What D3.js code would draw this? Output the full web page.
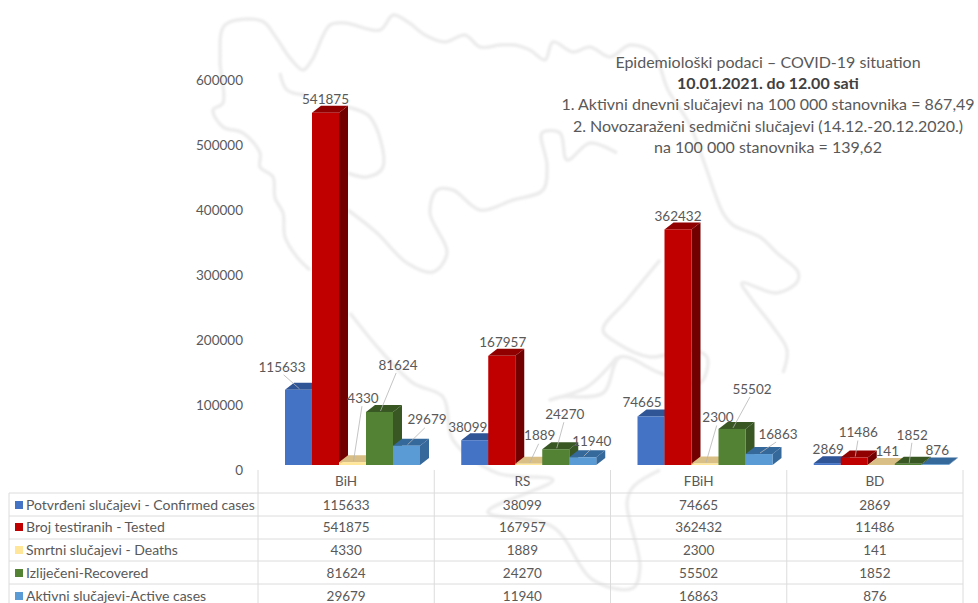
<!DOCTYPE html>
<html>
<head>
<meta charset="utf-8">
<script src="https://cdn.jsdelivr.net/npm/d3@7"></script>
<style>
  html, body { margin: 0; background: #fff; overflow: hidden; }
  text { font-family: Lato, "Open Sans", sans-serif; fill: #595959; }
</style>
</head>
<body>
<div id="chart"></div>
<script>
const categories = ["BiH", "RS", "FBiH", "BD"];
const seriesNames = [
  "Potvrđeni slučajevi - Confirmed cases",
  "Broj testiranih - Tested",
  "Smrtni slučajevi - Deaths",
  "Izliječeni-Recovered",
  "Aktivni slučajevi-Active cases"
];
const confirmed = [115633, 38099, 74665, 2869];
const tested = [541875, 167957, 362432, 11486];
const deaths = [4330, 1889, 2300, 141];
const recovered = [81624, 24270, 55502, 1852];
const active = [29679, 11940, 16863, 876];
const seriesValues = [confirmed, tested, deaths, recovered, active];
const yTicks = [0, 100000, 200000, 300000, 400000, 500000, 600000];

const titleLines = [
  "Epidemiološki podaci – COVID-19 situation",
  "10.01.2021. do 12.00 sati",
  "1. Aktivni dnevni slučajevi na 100 000 stanovnika = 867,49",
  "2. Novozaraženi sedmični slučajevi (14.12.-20.12.2020.)",
  "na 100 000 stanovnika = 139,62"
];

// front, top, side colours per series
const barColors = [
  ["#4472c4", "#2f5597", "#2f5597"],
  ["#c00000", "#900000", "#730000"],
  ["#ffe699", "#d9bf85", "#d9bf85"],
  ["#548235", "#385723", "#385723"],
  ["#5b9bd5", "#35689b", "#35689b"]
];
const swatchColors = barColors.map(c => c[0]);

// label shift from the top of its bar, [series][category]
const labelShift = [
  [[-16.5, -23], [-7, -13], [-9, -14], [1, -14]],
  [[0, -14], [1, -14], [0, -13], [4, -25]],
  [[10.5, -64], [11, -28], [13, -46], [6, -14]],
  [[18.5, -47], [9, -35], [20, -40], [4, -29]],
  [[20.5, -26], [9, -16], [19, -20], [2, -14]]
];

// faint map outline behind the chart, traced by hand
const mapOutlines = [
  [[310,270],[297,257],[285,237],[283,213],[275,198],[273,177],[260,167],[260,153],[243,133],[223,127],[213,110],[223,103],[220,60],[225,25],[262,21],[275,36],[290,58],[303,70],[312,60],[330,25],[345,23],[380,30],[393,15],[408,22],[425,35],[445,42],[465,35],[480,47],[500,45],[515,45],[530,50],[545,60],[553,42],[573,52],[590,47],[610,57],[630,45],[653,53],[668,90],[690,125],[705,165],[723,213],[733,225],[760,237],[777,253],[798,272],[797,282],[777,293],[742,283],[750,297],[773,327],[787,350],[783,373]],
  [[280,73],[287,90],[305,95]],
  [[347,107],[370,117],[383,167],[367,177],[348,173]],
  [[348,210],[377,233],[407,263],[433,272],[447,253],[430,213],[437,190],[453,190],[480,210],[513,200],[543,190],[547,165],[542,133],[560,133],[567,160],[590,143],[617,153]],
  [[350,313],[380,350],[413,383],[443,397],[453,440],[497,473],[553,480],[488,512],[553,527],[593,580],[633,588],[640,567],[627,503],[633,487],[660,470]],
  [[660,260],[627,300],[603,330],[617,343],[650,357],[690,350],[707,357],[700,383],[660,373],[620,357],[603,393],[560,397],[550,400],[587,387],[617,357]]
];

const width = 978, height = 603;
const depthX = 9, depthY = 7;
const fmt = d => String(d);

const svg = d3.select("#chart").append("svg")
  .attr("width", width)
  .attr("height", height)
  .style("display", "block");

svg.append("defs").append("filter")
  .attr("id", "soft")
  .append("feGaussianBlur")
  .attr("stdDeviation", 0.9);

// Background map
const outline = d3.line().curve(d3.curveCatmullRom);
svg.append("g")
  .attr("filter", "url(#soft)")
  .selectAll("path")
  .data(mapOutlines)
  .join("path")
  .attr("d", outline)
  .attr("fill", "none")
  .attr("stroke", "#ececec")
  .attr("stroke-width", 3.5);

// Scales
const xCat = d3.scaleBand().domain(categories).range([258, 963]);
const xSeries = d3.scaleBand().domain(d3.range(5)).range([27, 162]);
const y = d3.scaleLinear().domain([0, 600000]).range([465, 75]);

// Y axis, labels sit a little under the front of the bars
const yAxis = svg.append("g")
  .attr("transform", "translate(248,5)")
  .call(d3.axisLeft(y).tickValues(yTicks).tickFormat(fmt).tickSize(0).tickPadding(5));
yAxis.select(".domain").remove();
yAxis.selectAll("text")
  .style("font-family", "Lato, 'Open Sans', sans-serif")
  .style("font-size", "13.5px")
  .attr("fill", "#595959");

// Bars
const w = xSeries.bandwidth();
const base = y(0);
const poly = pts => pts.map(p => p.join(",")).join(" ");

categories.forEach((cat, c) => {
  seriesValues.forEach((vals, s) => {
    const x0 = xCat(cat) + xSeries(s);
    const top = y(vals[c]);
    const g = svg.append("g").attr("class", "bar");
    g.append("polygon")
      .attr("points", poly([[x0 + w, top], [x0 + w + depthX, top - depthY], [x0 + w + depthX, base - depthY], [x0 + w, base]]))
      .attr("fill", barColors[s][2]);
    g.append("polygon")
      .attr("points", poly([[x0, top], [x0 + depthX, top - depthY], [x0 + w + depthX, top - depthY], [x0 + w, top]]))
      .attr("fill", barColors[s][1]);
    g.append("rect")
      .attr("x", x0)
      .attr("y", top)
      .attr("width", w)
      .attr("height", base - top)
      .attr("fill", barColors[s][0]);
  });
});

// Data labels with leader lines
categories.forEach((cat, c) => {
  seriesValues.forEach((vals, s) => {
    const cx = xCat(cat) + xSeries(s) + w / 2;
    const top = y(vals[c]);
    const [dx, dy] = labelShift[s][c];
    if (Math.hypot(dx, dy) > 18) {
      svg.append("line")
        .attr("x1", cx + dx * 0.9)
        .attr("y1", top + dy + 8)
        .attr("x2", cx + 1)
        .attr("y2", top - 1)
        .attr("stroke", "#b5b5b5")
        .attr("stroke-width", 0.8);
    }
    svg.append("text")
      .attr("x", cx + dx)
      .attr("y", top + dy)
      .attr("dy", "0.35em")
      .attr("text-anchor", "middle")
      .style("font-size", "13.5px")
      .text(fmt(vals[c]));
  });
});

// Data table
const rowLines = [493, 516, 539, 561, 584];
const rowMid = [505, 527, 550, 573, 596];
const gridColor = "#dcdcdc";

rowLines.forEach(ry => {
  svg.append("line")
    .attr("x1", 9).attr("x2", 963)
    .attr("y1", ry).attr("y2", ry)
    .attr("stroke", gridColor);
});
svg.append("line")
  .attr("x1", 9).attr("x2", 9)
  .attr("y1", 493).attr("y2", height)
  .attr("stroke", gridColor);
[...categories.map(c => xCat(c)), 963].forEach(vx => {
  svg.append("line")
    .attr("x1", vx).attr("x2", vx)
    .attr("y1", 470).attr("y2", height)
    .attr("stroke", gridColor);
});

categories.forEach(cat => {
  svg.append("text")
    .attr("x", xCat(cat) + xCat.bandwidth() / 2)
    .attr("y", 481)
    .attr("dy", "0.35em")
    .attr("text-anchor", "middle")
    .style("font-size", "13.5px")
    .text(cat);
});

seriesNames.forEach((name, s) => {
  svg.append("rect")
    .attr("x", 15)
    .attr("y", rowMid[s] - 4)
    .attr("width", 8)
    .attr("height", 8)
    .attr("fill", swatchColors[s]);
  svg.append("text")
    .attr("x", 26)
    .attr("y", rowMid[s])
    .attr("dy", "0.35em")
    .style("font-size", "14px")
    .text(name);
  categories.forEach((cat, c) => {
    svg.append("text")
      .attr("x", xCat(cat) + xCat.bandwidth() / 2)
      .attr("y", rowMid[s])
      .attr("dy", "0.35em")
      .attr("text-anchor", "middle")
      .style("font-size", "13.5px")
      .text(fmt(seriesValues[s][c]));
  });
});

// Title block
svg.append("g").selectAll("text")
  .data(titleLines)
  .join("text")
  .attr("x", 768)
  .attr("y", (d, i) => 62 + i * 21.3)
  .attr("dy", "0.35em")
  .attr("text-anchor", "middle")
  .style("font-size", "16px")
  .style("font-weight", (d, i) => i === 1 ? 700 : 400)
  .style("fill", (d, i) => i === 1 ? "#404040" : "#595959")
  .text(d => d);
</script>
</body>
</html>
